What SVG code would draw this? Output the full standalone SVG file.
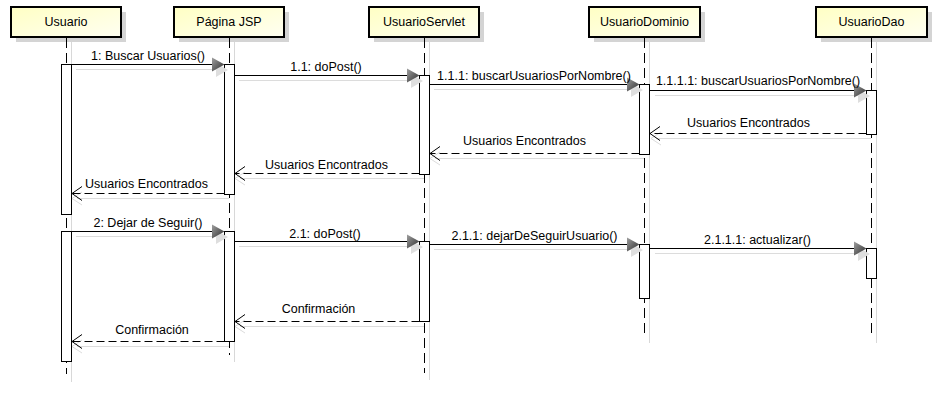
<svg xmlns="http://www.w3.org/2000/svg" width="941" height="400" viewBox="0 0 941 400">
<style>
text{font-family:"Liberation Sans",Arial,sans-serif;font-size:12.5px;fill:#000}
.hd{fill:url(#hg);stroke:#000;stroke-width:2}
.hs{fill:#d4d4d4}
.ll{stroke:#000;stroke-width:1;stroke-dasharray:10,5;fill:none}
.ls{stroke:#d8d8d8;stroke-width:1;fill:none}
.act{fill:#fff;stroke:#000;stroke-width:1}
.msg{stroke:#000;stroke-width:1;fill:none}
.ret{stroke:#000;stroke-width:1;stroke-dasharray:8,4;fill:none}
.sh{stroke:#dcdcdc;stroke-width:1;fill:none}
.ah{fill:url(#ag)}
.ahs{fill:#dedede}
</style>
<defs>
<linearGradient id="hg" x1="0" y1="0" x2="1" y2="1">
<stop offset="0" stop-color="#ffffc4"/>
<stop offset="1" stop-color="#fffff2"/>
</linearGradient>
<linearGradient id="ag" x1="0" y1="0" x2="1" y2="1">
<stop offset="0" stop-color="#a0a0a0"/>
<stop offset="1" stop-color="#2c2c2c"/>
</linearGradient>
</defs>

<g id="lifeline-usuario">
<rect class="hs" x="16" y="12" width="110" height="30"/>
<rect class="hd" x="11" y="7" width="110" height="30"/>
<text x="66" y="26" text-anchor="middle">Usuario</text>
<line class="ls" x1="71.5" y1="42" x2="71.5" y2="382"/>
<line class="ll" x1="66.5" y1="38" x2="66.5" y2="374"/>
<rect class="act" x="61.5" y="64.5" width="10" height="150"/>
<rect class="act" x="61.5" y="231.5" width="10" height="130"/>
</g>

<g id="lifeline-jsp">
<rect class="hs" x="179" y="12" width="110" height="30"/>
<rect class="hd" x="174" y="7" width="110" height="30"/>
<text x="229" y="26" text-anchor="middle">Página JSP</text>
<line class="ls" x1="234.5" y1="42" x2="234.5" y2="362"/>
<line class="ll" x1="229.5" y1="38" x2="229.5" y2="355"/>
<rect class="act" x="224.5" y="64.5" width="10" height="130"/>
<rect class="act" x="224.5" y="231.5" width="10" height="110"/>
</g>

<g id="lifeline-servlet">
<rect class="hs" x="374" y="12" width="110" height="30"/>
<rect class="hd" x="369" y="7" width="110" height="30"/>
<text x="424" y="26" text-anchor="middle">UsuarioServlet</text>
<line class="ls" x1="429.5" y1="42" x2="429.5" y2="380"/>
<line class="ll" x1="424.5" y1="38" x2="424.5" y2="373"/>
<rect class="act" x="419.5" y="75.5" width="10" height="99"/>
<rect class="act" x="419.5" y="241.5" width="10" height="80"/>
</g>

<g id="lifeline-dominio">
<rect class="hs" x="594" y="12" width="111" height="30"/>
<rect class="hd" x="589" y="7" width="111" height="30"/>
<text x="644.5" y="26" text-anchor="middle">UsuarioDominio</text>
<line class="ls" x1="649.5" y1="42" x2="649.5" y2="343"/>
<line class="ll" x1="644.5" y1="38" x2="644.5" y2="338"/>
<rect class="act" x="639.5" y="84.5" width="10" height="70"/>
<rect class="act" x="639.5" y="244.5" width="10" height="54"/>
</g>

<g id="lifeline-dao">
<rect class="hs" x="821" y="12" width="111" height="30"/>
<rect class="hd" x="816" y="7" width="111" height="30"/>
<text x="871.5" y="26" text-anchor="middle">UsuarioDao</text>
<line class="ls" x1="876.5" y1="42" x2="876.5" y2="343"/>
<line class="ll" x1="871.5" y1="38" x2="871.5" y2="338"/>
<rect class="act" x="866.5" y="90.5" width="10" height="44"/>
<rect class="act" x="866.5" y="248.5" width="10" height="30"/>
</g>

<g id="connectors">
<!-- 1 -->
<line class="sh" x1="76" y1="69.5" x2="217" y2="69.5"/>
<path class="ahs" d="M216,63 L228,70 L216,77 Z"/>
<line class="msg" x1="71.5" y1="64.5" x2="214" y2="64.5"/>
<path class="ah" d="M212,57.5 L224.5,64.5 L212,71.5 Z"/>
<text x="148" y="60" text-anchor="middle">1: Buscar Usuarios()</text>
<!-- 1.1 -->
<line class="sh" x1="239" y1="80.5" x2="412" y2="80.5"/>
<path class="ahs" d="M411,74 L423,81 L411,88 Z"/>
<line class="msg" x1="234.5" y1="75.5" x2="409" y2="75.5"/>
<path class="ah" d="M407,68.5 L419.5,75.5 L407,82.5 Z"/>
<text x="326" y="71" text-anchor="middle">1.1: doPost()</text>
<!-- 1.1.1 -->
<line class="sh" x1="434" y1="89.5" x2="632" y2="89.5"/>
<path class="ahs" d="M631,83 L643,90 L631,97 Z"/>
<line class="msg" x1="429.5" y1="84.5" x2="629" y2="84.5"/>
<path class="ah" d="M627,77.5 L639.5,84.5 L627,91.5 Z"/>
<text x="534" y="80" text-anchor="middle">1.1.1: buscarUsuariosPorNombre()</text>
<!-- 1.1.1.1 -->
<line class="sh" x1="655" y1="95.5" x2="859" y2="95.5"/>
<path class="ahs" d="M858,89 L870,96 L858,103 Z"/>
<line class="msg" x1="649.5" y1="90.5" x2="856" y2="90.5"/>
<path class="ah" d="M854,83.5 L866.5,90.5 L854,97.5 Z"/>
<text x="758" y="85" text-anchor="middle">1.1.1.1: buscarUsuariosPorNombre()</text>
<!-- return Dao -> Dominio -->
<line class="sh" x1="656" y1="138.5" x2="871" y2="138.5"/>
<path class="sh" d="M661,132 L651,138.5 L661,145"/>
<line class="ret" x1="866.5" y1="133.5" x2="650" y2="133.5"/>
<path class="msg" d="M660,126.5 L650,133.5 L660,140.5"/>
<text x="748.5" y="127" text-anchor="middle">Usuarios Encontrados</text>
<!-- return Dominio -> Servlet -->
<line class="sh" x1="435" y1="158.5" x2="644" y2="158.5"/>
<path class="sh" d="M440,152 L430,158.5 L440,165"/>
<line class="ret" x1="639.5" y1="153.5" x2="430" y2="153.5"/>
<path class="msg" d="M440,146.5 L430,153.5 L440,160.5"/>
<text x="524.5" y="145" text-anchor="middle">Usuarios Encontrados</text>
<!-- return Servlet -> JSP -->
<line class="sh" x1="240" y1="178.5" x2="424" y2="178.5"/>
<path class="sh" d="M245,172 L235,178.5 L245,185"/>
<line class="ret" x1="419.5" y1="173.5" x2="235" y2="173.5"/>
<path class="msg" d="M245,166.5 L235,173.5 L245,180.5"/>
<text x="326.5" y="169" text-anchor="middle">Usuarios Encontrados</text>
<!-- return JSP -> Usuario -->
<line class="sh" x1="77" y1="198.5" x2="229" y2="198.5"/>
<path class="sh" d="M82,192 L72,198.5 L82,205"/>
<line class="ret" x1="224.5" y1="193.5" x2="72" y2="193.5"/>
<path class="msg" d="M82,186.5 L72,193.5 L82,200.5"/>
<text x="146.5" y="187.5" text-anchor="middle">Usuarios Encontrados</text>
<!-- 2 -->
<line class="sh" x1="76" y1="236.5" x2="217" y2="236.5"/>
<path class="ahs" d="M216,230 L228,237 L216,244 Z"/>
<line class="msg" x1="71.5" y1="231.5" x2="214" y2="231.5"/>
<path class="ah" d="M212,224.5 L224.5,231.5 L212,238.5 Z"/>
<text x="148" y="227" text-anchor="middle">2: Dejar de Seguir()</text>
<!-- 2.1 -->
<line class="sh" x1="239" y1="246.5" x2="412" y2="246.5"/>
<path class="ahs" d="M411,240 L423,247 L411,254 Z"/>
<line class="msg" x1="234.5" y1="241.5" x2="409" y2="241.5"/>
<path class="ah" d="M407,234.5 L419.5,241.5 L407,248.5 Z"/>
<text x="325" y="237.5" text-anchor="middle">2.1: doPost()</text>
<!-- 2.1.1 -->
<line class="sh" x1="434" y1="249.5" x2="632" y2="249.5"/>
<path class="ahs" d="M631,243 L643,250 L631,257 Z"/>
<line class="msg" x1="429.5" y1="244.5" x2="629" y2="244.5"/>
<path class="ah" d="M627,237.5 L639.5,244.5 L627,251.5 Z"/>
<text x="534.5" y="240" text-anchor="middle">2.1.1: dejarDeSeguirUsuario()</text>
<!-- 2.1.1.1 -->
<line class="sh" x1="655" y1="253.5" x2="859" y2="253.5"/>
<path class="ahs" d="M858,247 L870,254 L858,261 Z"/>
<line class="msg" x1="649.5" y1="248.5" x2="856" y2="248.5"/>
<path class="ah" d="M854,241.5 L866.5,248.5 L854,255.5 Z"/>
<text x="757.5" y="244" text-anchor="middle">2.1.1.1: actualizar()</text>
<!-- Confirmacion Servlet -> JSP -->
<line class="sh" x1="240" y1="326.5" x2="424" y2="326.5"/>
<path class="sh" d="M245,320 L235,326.5 L245,333"/>
<line class="ret" x1="419.5" y1="321.5" x2="235" y2="321.5"/>
<path class="msg" d="M245,314.5 L235,321.5 L245,328.5"/>
<text x="318.5" y="313" text-anchor="middle">Confirmación</text>
<!-- Confirmacion JSP -> Usuario -->
<line class="sh" x1="77" y1="346.5" x2="229" y2="346.5"/>
<path class="sh" d="M82,340 L72,346.5 L82,353"/>
<line class="ret" x1="224.5" y1="341.5" x2="72" y2="341.5"/>
<path class="msg" d="M82,334.5 L72,341.5 L82,348.5"/>
<text x="152" y="334" text-anchor="middle">Confirmación</text>
</g>
</svg>
